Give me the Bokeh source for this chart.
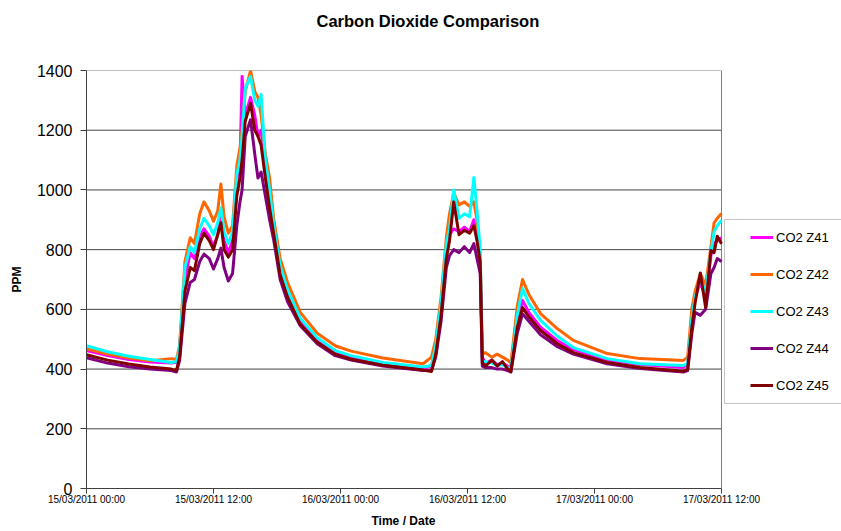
import pandas as pd
from bokeh.plotting import figure
from bokeh.models import (Range1d, FixedTicker, DatetimeTickFormatter, Legend,
                          LegendItem, ColumnDataSource, BoxAnnotation, Title)
from bokeh.embed import file_html
from bokeh.resources import INLINE

# ---------------- data ----------------
start = pd.Timestamp("2011-03-15 00:00")
hours = [0, 2, 4, 6, 8, 8.5, 8.8, 9.3, 9.8, 10.2, 10.7, 11.1, 11.6, 12.0, 12.4,
         12.7, 13.0, 13.4, 13.8, 14.2, 14.5, 14.7, 15.0, 15.5, 15.9,
         16.2, 16.5, 16.9, 17.3, 17.7, 18.3, 19.0, 20.2, 21.8, 23.5,
         25.0, 28.0, 31.8, 32.6, 33.0, 33.5, 34.0, 34.3, 34.7, 35.2,
         35.7, 36.2, 36.6, 36.9, 37.2, 37.4, 37.7, 38.3, 38.8, 39.3,
         39.8, 40.1, 40.7, 41.2, 41.8, 42.9, 44.5, 46.0, 49.2, 52.3,
         56.4, 56.8, 57.2, 57.5, 58.0, 58.5, 59.0, 59.3, 59.6, 60.0]

co2_z41 = [462, 445, 432, 424, 420, 423, 470, 700, 790, 770, 840, 870, 845, 810, 850,
           920, 830, 790, 830, 1020, 1080, 1380, 1250, 1310, 1250,
           1180, 1200, 1060, 960, 860, 730, 650, 560, 495, 455,
           437, 418, 402, 410, 470, 600, 790, 850, 870, 860,
           875, 860, 900, 840, 760, 440, 420, 430, 415, 420,
           410, 405, 560, 630, 590, 540, 495, 465, 430, 415,
           405, 420, 560, 640, 690, 640, 780, 820, 830, 840]

co2_z42 = [468, 450, 437, 428, 435, 432, 480, 760, 840, 820, 920, 960, 930, 895, 930,
           1020, 910, 855, 880, 1080, 1140, 1200, 1330, 1400, 1330,
           1310, 1250, 1120, 1040, 900, 770, 690, 590, 520, 478,
           460, 437, 418, 440, 500, 640, 840, 920, 990, 950,
           960, 945, 960, 900, 780, 450, 455, 440, 450, 440,
           430, 420, 610, 700, 650, 586, 535, 496, 452, 435,
           429, 440, 603, 660, 720, 680, 810, 890, 905, 921]

co2_z43 = [478, 458, 443, 432, 422, 425, 470, 740, 810, 790, 870, 905, 880, 850, 890,
           940, 860, 820, 860, 1050, 1100, 1180, 1340, 1380, 1300,
           1280, 1320, 1100, 1000, 880, 745, 665, 570, 505, 462,
           445, 422, 407, 412, 480, 620, 820, 870, 1000, 905,
           920, 910, 1042, 930, 800, 430, 425, 420, 412, 415,
           405, 400, 580, 670, 620, 563, 510, 472, 435, 418,
           412, 418, 570, 640, 700, 660, 790, 860, 880, 898]

co2_z44 = [438, 420, 408, 400, 395, 390, 430, 620, 690, 700, 760, 785, 770, 735, 770,
           805, 740, 695, 720, 880, 960, 1000, 1180, 1235, 1120,
           1040, 1060, 980, 900, 830, 700, 625, 545, 485, 445,
           430, 410, 395, 395, 440, 560, 740, 780, 800, 790,
           810, 790, 820, 770, 720, 410, 405, 405, 400, 400,
           395, 390, 520, 585, 560, 515, 475, 450, 418, 402,
           390, 395, 520, 590, 580, 600, 720, 740, 770, 760]

co2_z45 = [448, 430, 417, 407, 400, 395, 440, 660, 740, 730, 820, 855, 830, 800, 850,
           890, 800, 775, 800, 980, 1040, 1100, 1230, 1290, 1200,
           1180, 1150, 1040, 940, 850, 715, 640, 550, 490, 450,
           433, 413, 397, 392, 450, 580, 770, 830, 960, 850,
           865, 855, 880, 830, 760, 420, 410, 430, 410, 425,
           400, 392, 540, 606, 575, 529, 485, 455, 422, 405,
           393, 398, 540, 620, 722, 606, 797, 790, 845, 820]

series_names = ["CO2 Z41", "CO2 Z42", "CO2 Z43", "CO2 Z44", "CO2 Z45"]
series_values = [co2_z41, co2_z42, co2_z43, co2_z44, co2_z45]
series_colors = ["#FF00FF", "#FF6600", "#00FFFF", "#800080", "#800000"]

tick_hours = [0, 12, 24, 36, 48, 60]
y_ticks = [0, 200, 400, 600, 800, 1000, 1200, 1400]

# ---------------- layout constants ----------------
W, H = 841, 531
FL, FR, FT, FB = 86, 721, 70, 488          # plot-area edges (px)
LEG_L, LEG_T, LEG_B = 724, 219, 403        # legend box edges (px)
span_hours = tick_hours[-1] - tick_hours[0]
frame_hours = span_hours * (W - FL) / (FR - FL)   # frame runs under the legend too

times = [start + pd.Timedelta(hours=h) for h in hours]
t_end = start + pd.Timedelta(hours=span_hours)
tick_ms = [(start + pd.Timedelta(hours=h)).value / 1e6 for h in tick_hours]

FONT = "Liberation Sans"
p = figure(width=W, height=H, output_backend="svg", toolbar_location=None,
           x_axis_type="datetime",
           x_range=Range1d(start, start + pd.Timedelta(hours=frame_hours)),
           y_range=Range1d(y_ticks[0], y_ticks[-1]),
           min_border_left=FL, min_border_right=0,
           min_border_top=FT, min_border_bottom=H - FB)

# title: two empty lines under the text lift it to the top of the chart
p.title.text = "Carbon Dioxide Comparison\n\n"
p.title.text_font = FONT
p.title.text_font_size = "16.5px"
p.title.text_font_style = "bold"
p.title.align = "left"
p.title.offset = 230
p.title.standoff = 10
p.title.text_color = "#000000"

p.outline_line_color = None
p.background_fill_color = "white"
p.border_fill_color = "white"

# x axis
p.xaxis.ticker = FixedTicker(ticks=tick_ms)
p.xaxis.bounds = (tick_ms[0], tick_ms[-1])
fmt = "%d/%m/%Y %H:%M"
p.xaxis.formatter = DatetimeTickFormatter(
    microseconds=fmt, milliseconds=fmt, seconds=fmt, minsec=fmt, minutes=fmt,
    hourmin=fmt, hours=fmt, days=fmt, months=fmt, years=fmt)
p.xaxis.major_label_text_font = FONT
p.xaxis.major_label_text_font_size = "10px"
p.xaxis.major_label_standoff = 0
p.xaxis.major_tick_out = 5
p.xaxis.major_tick_in = 0
p.xaxis.minor_tick_line_color = None

xlabel = Title(text="Time / Date", text_font=FONT, text_font_size="12px",
               text_font_style="bold", text_color="#000000",
               align="left", offset=285, standoff=8)
p.add_layout(xlabel, "below")

# y axis
p.yaxis.ticker = FixedTicker(ticks=y_ticks)
p.yaxis.axis_label = "PPM"
p.yaxis.axis_label_text_font = FONT
p.yaxis.axis_label_text_font_size = "12px"
p.yaxis.axis_label_text_font_style = "bold"
p.yaxis.axis_label_standoff = 10
p.yaxis.major_label_text_font = FONT
p.yaxis.major_label_text_font_size = "16px"
p.yaxis.major_label_standoff = 8
p.yaxis.major_tick_out = 6
p.yaxis.major_tick_in = 0
p.yaxis.minor_tick_line_color = None

for ax in (p.xaxis, p.yaxis):
    ax.axis_line_color = "#404040"
    ax.major_tick_line_color = "#404040"
    ax.major_label_text_color = "#000000"
    ax.axis_label_text_color = "#000000"

p.xgrid.grid_line_color = None
p.ygrid.grid_line_color = None

# horizontal gridlines and plot-area border, limited to the time span
grid_vals = y_ticks[1:-1]
p.segment(x0=[start] * len(grid_vals), x1=[t_end] * len(grid_vals),
          y0=grid_vals, y1=grid_vals, line_color="#444444", line_width=1)
p.segment(x0=[start], x1=[t_end], y0=[y_ticks[-1]], y1=[y_ticks[-1]],
          line_color="#808080", line_width=1)
p.segment(x0=[t_end], x1=[t_end], y0=[y_ticks[0]], y1=[y_ticks[-1]],
          line_color="#808080", line_width=1)

items = []
for name, vals, col in zip(series_names, series_values, series_colors):
    src = ColumnDataSource(dict(t=times, v=vals))
    r = p.line("t", "v", source=src, line_color=col, line_width=3,
               line_join="round")
    items.append(LegendItem(label=name, renderers=[r]))

# legend frame (screen units: x from frame left, y up from frame bottom)
p.add_layout(BoxAnnotation(left=LEG_L - FL, right=W - FL + 20,
                           top=FB - LEG_T, bottom=FB - LEG_B,
                           left_units="screen", right_units="screen",
                           top_units="screen", bottom_units="screen",
                           fill_color="white", fill_alpha=1,
                           line_color="#404040", line_width=1))

legend = Legend(items=items, location=(750 - FL, FB - 393))
legend.label_text_font = FONT
legend.label_text_font_size = "13px"
legend.label_text_color = "#000000"
legend.glyph_width = 23
legend.glyph_height = 16
legend.label_height = 16
legend.label_standoff = 3
legend.spacing = 21
legend.padding = 0
legend.margin = 0
legend.border_line_color = None
legend.background_fill_alpha = 0
p.add_layout(legend, "center")

open("out.html", "w").write(file_html(p, INLINE))
